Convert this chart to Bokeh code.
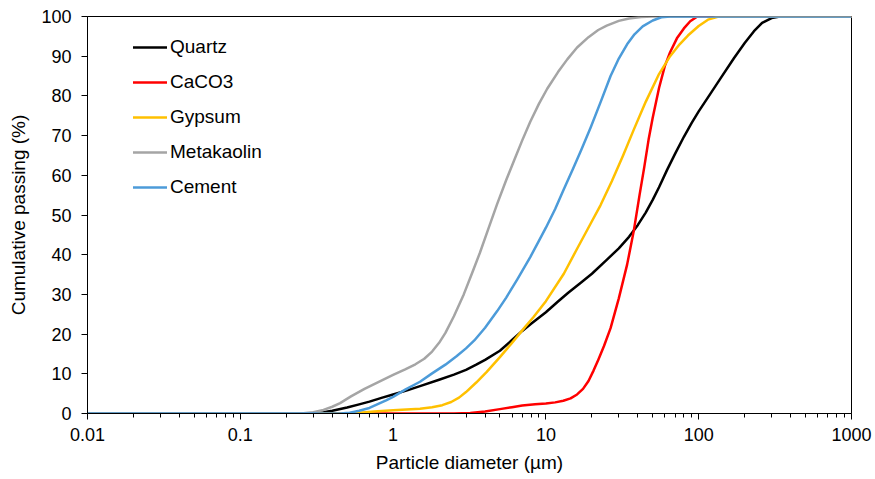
from bokeh.plotting import figure
from bokeh.models import Range1d, FixedTicker, CustomJSTickFormatter
from bokeh.embed import file_html
from bokeh.resources import INLINE

# ---- data ----
quartz_x = [0.01, 0.28, 0.35, 0.4, 0.5, 0.6, 0.7, 0.85, 1.0, 1.25, 1.5, 2.0, 2.5, 3.0, 3.5, 4.0, 5.0, 6.0, 7.0, 8.0,
            10, 12, 14, 17, 20, 25, 30, 35, 40, 45, 50, 55, 62, 70, 80, 90, 100, 120, 140, 170, 200, 230, 260, 300, 340, 1000]
quartz_y = [0, 0, 0.3, 0.7, 1.5, 2.3, 3.0, 4.0, 4.8, 5.9, 6.9, 8.5, 9.8, 11.0, 12.3, 13.5, 15.8, 18.5, 20.8, 22.6,
            25.5, 28.2, 30.4, 33.0, 35.2, 38.7, 41.6, 44.5, 47.5, 50.6, 53.8, 57.0, 61.3, 65.4, 69.7, 73.2, 76.1, 80.7, 84.6,
            89.5, 93.3, 96.3, 98.4, 99.6, 100, 100]

caco3_x = [0.01, 2.5, 3.2, 4, 5, 6, 7, 8.5, 10, 11.5, 13, 14.5, 16, 17.5, 19, 20.5, 22, 24, 26.5, 30, 34, 37.6,
           41, 44, 47, 50, 55, 60, 65, 72, 80, 88, 98, 1000]
caco3_y = [0, 0, 0.1, 0.5, 1.1, 1.6, 2.0, 2.3, 2.5, 2.8, 3.2, 3.8, 4.8, 6.2, 8.2, 10.8, 13.5, 17, 21.5, 29, 37.5, 46,
           55, 62, 69, 74.5, 82, 87.5, 91, 94.5, 97, 98.8, 100, 100]

gypsum_x = [0.01, 0.5, 0.6, 0.75, 1.0, 1.5, 1.8, 2.1, 2.4, 2.7, 3.0, 3.5, 4.1, 5.0, 6.0, 7.2, 8.3, 10, 13.1, 16, 19.6,
            22.8, 27, 32, 37.6, 45, 55, 65, 75, 85, 100, 115, 135, 1000]
gypsum_y = [0, 0, 0.2, 0.5, 0.8, 1.2, 1.6, 2.1, 2.9, 4.0, 5.4, 7.8, 10.5, 14.2, 17.8, 21.5, 24.3, 28.3, 35.2, 41.5, 47.8,
            52.5, 58.5, 65, 71.5, 78.5, 85.5, 90, 93, 95.2, 97.6, 99.2, 100, 100]

meta_x = [0.01, 0.25, 0.3, 0.35, 0.4, 0.45, 0.53, 0.65, 0.8, 1.0, 1.2, 1.4, 1.6, 1.8, 2.0, 2.2, 2.5, 2.9, 3.3, 3.7, 4.2,
          4.8, 5.5, 6.2, 7.0, 7.9, 9.0, 10.2, 12, 13.8, 16, 19, 22, 25, 30, 35, 42, 50, 1000]
meta_y = [0, 0, 0.3, 0.9, 1.7, 2.6, 4.3, 6.2, 7.9, 9.7, 11.1, 12.4, 13.8, 15.6, 17.8, 20.3, 24.5, 30, 35.5, 40.5, 46.5,
          52.8, 58.8, 63.8, 68.8, 73.5, 78, 81.8, 86, 89.2, 92.2, 94.8, 96.6, 97.7, 98.9, 99.5, 99.9, 100, 100]

cement_x = [0.01, 0.45, 0.52, 0.6, 0.7, 0.8, 0.9, 1.0, 1.2, 1.5, 1.8, 2.2, 2.6, 3.0, 3.4, 4.0, 4.8, 5.5, 6.5, 7.9, 9,
            10, 11.5, 13.1, 15, 17, 19.6, 23, 26.5, 30, 34, 38, 43, 50, 57, 65, 1000]
cement_y = [0, 0, 0.2, 0.7, 1.4, 2.4, 3.3, 4.2, 6.0, 8.0, 10.1, 12.3, 14.4, 16.4, 18.4, 21.6, 25.8, 29.2, 33.8, 39.4, 43.5,
            46.8, 51.5, 56.5, 61.5, 66.3, 72, 78.8, 85, 89.4, 93, 95.5, 97.5, 99.0, 99.8, 100, 100]

series_names = ["Quartz", "CaCO3", "Gypsum", "Metakaolin", "Cement"]
series_colors = ["#000000", "#FF0000", "#FFC000", "#A5A5A5", "#4C9BD9"]

x_tick_values = [0.01, 0.1, 1, 10, 100, 1000]
x_tick_labels = ["0.01", "0.1", "1", "10", "100", "1000"]
y_tick_values = [0, 10, 20, 30, 40, 50, 60, 70, 80, 90, 100]

FONT = "Liberation Sans"

p = figure(width=875, height=479, x_axis_type="log",
           x_range=Range1d(0.01, 1000), y_range=Range1d(0, 100),
           output_backend="svg", toolbar_location=None,
           min_border_left=87, min_border_right=24,
           min_border_top=16, min_border_bottom=66)

p.xgrid.visible = False
p.ygrid.visible = False
p.outline_line_color = "black"
p.outline_line_width = 1
p.background_fill_color = "white"
p.border_fill_color = "white"

data = [(quartz_x, quartz_y), (caco3_x, caco3_y), (gypsum_x, gypsum_y),
        (meta_x, meta_y), (cement_x, cement_y)]
for (xs, ys), name, col in zip(data, series_names, series_colors):
    p.line(xs, ys, line_color=col, line_width=2.5, legend_label=name,
           line_join="round", line_cap="round")

minor = [k * d for d in [0.01, 0.1, 1, 10, 100] for k in range(2, 10)]
p.xaxis.ticker = FixedTicker(ticks=x_tick_values, minor_ticks=minor)
p.xaxis.formatter = CustomJSTickFormatter(
    args=dict(tvals=x_tick_values, tlabs=x_tick_labels),
    code="""
    for (let i = 0; i < tvals.length; i++) {
        if (Math.abs(Math.log10(tick / tvals[i])) < 1e-6) return tlabs[i];
    }
    return '';
    """)
p.yaxis.ticker = FixedTicker(ticks=y_tick_values)

for ax in (p.xaxis[0], p.yaxis[0]):
    ax.axis_line_color = "black"
    ax.axis_line_width = 1
    ax.major_tick_line_color = "black"
    ax.minor_tick_line_color = "black"
    ax.major_tick_in = 0
    ax.major_tick_out = 6
    ax.minor_tick_in = 0
    ax.minor_tick_out = 4
    ax.major_label_text_font = FONT
    ax.major_label_text_font_size = "18px"
    ax.major_label_text_color = "black"
    ax.axis_label_text_font = FONT
    ax.axis_label_text_font_size = "19px"
    ax.axis_label_text_font_style = "normal"
    ax.axis_label_text_color = "black"

p.xaxis.axis_label = "Particle diameter (µm)"
p.yaxis.axis_label = "Cumulative passing (%)"
p.xaxis.major_label_standoff = 8
p.yaxis.major_label_standoff = 10
p.xaxis.axis_label_standoff = 8
p.yaxis.axis_label_standoff = 9

lg = p.legend[0]
lg.location = (46, 215)
lg.border_line_color = None
lg.background_fill_alpha = 0
lg.label_text_font = FONT
lg.label_text_font_size = "19px"
lg.label_text_color = "black"
lg.glyph_width = 34
lg.glyph_height = 20
lg.label_height = 20
lg.label_standoff = 3
lg.spacing = 13
lg.padding = 0
lg.margin = 0

open("out.html", "w").write(file_html(p, INLINE))
